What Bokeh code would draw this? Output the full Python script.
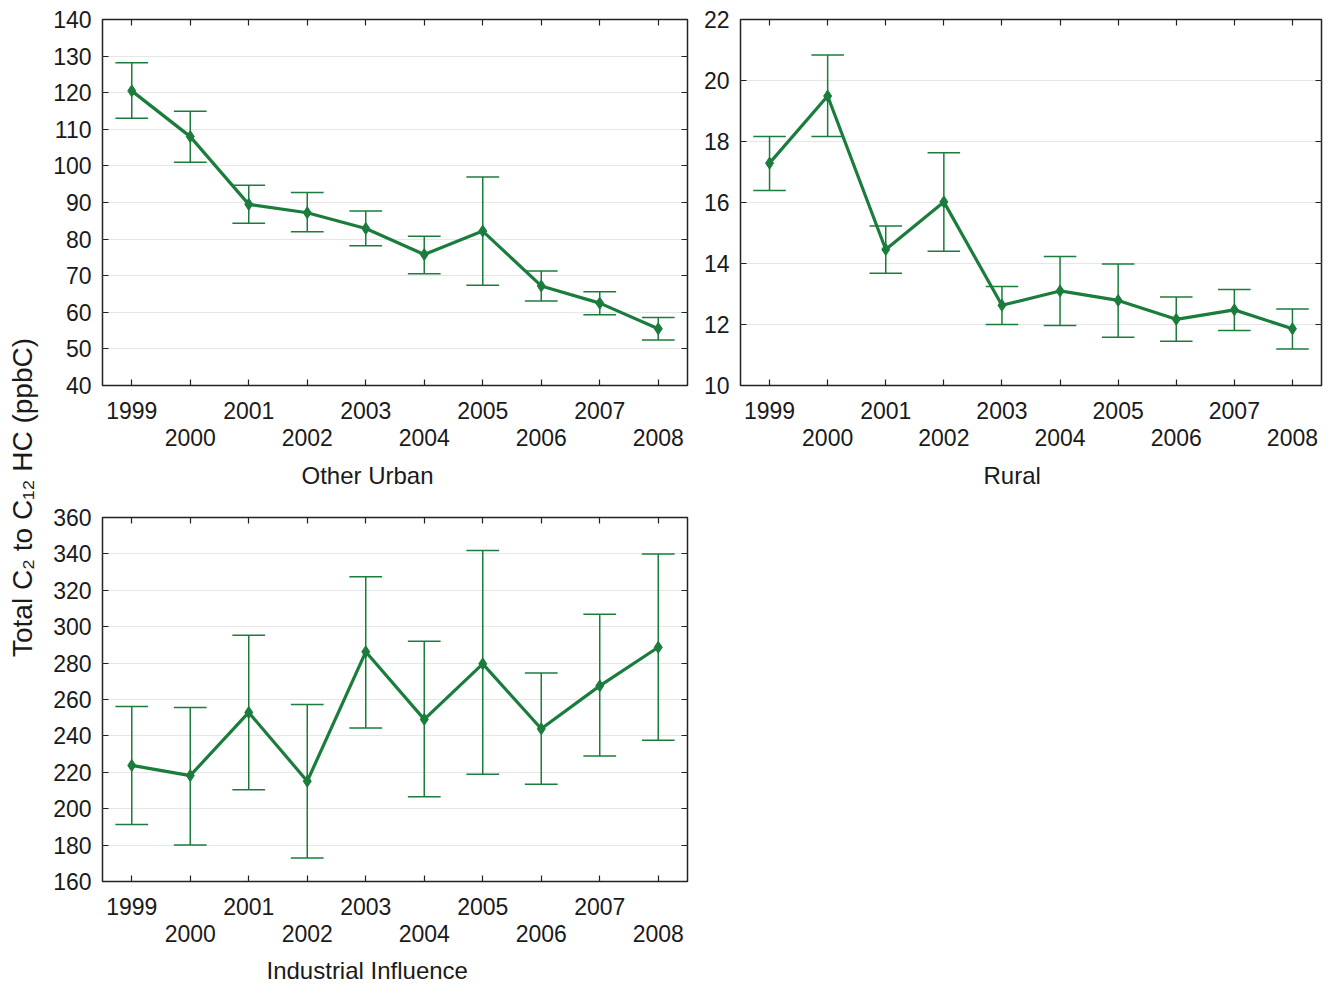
import math
from bokeh.plotting import figure
from bokeh.models import LinearAxis, FixedTicker, Range1d, Label, Grid, Title
from bokeh.layouts import row, column
from bokeh.embed import file_html
from bokeh.resources import INLINE

years = [1999, 2000, 2001, 2002, 2003, 2004, 2005, 2006, 2007, 2008]

urban_mean = [120.5, 108.0, 89.5, 87.2, 82.9, 75.8, 82.2, 67.2, 62.5, 55.5]
urban_upper = [128.2, 114.9, 94.7, 92.7, 87.7, 80.8, 97.0, 71.3, 65.6, 58.6]
urban_lower = [113.0, 101.0, 84.3, 82.0, 78.2, 70.5, 67.4, 63.1, 59.3, 52.4]

rural_mean = [17.29, 19.49, 14.46, 16.02, 12.63, 13.10, 12.79, 12.17, 12.48, 11.86]
rural_upper = [18.16, 20.84, 15.23, 17.63, 13.25, 14.23, 13.98, 12.90, 13.15, 12.51]
rural_lower = [16.39, 18.16, 13.68, 14.40, 12.00, 11.97, 11.58, 11.45, 11.80, 11.20]

ind_mean = [223.8, 218.2, 252.9, 215.1, 286.2, 249.1, 279.6, 243.9, 267.5, 288.7]
ind_upper = [256.2, 255.6, 295.3, 257.3, 327.5, 292.0, 341.8, 274.6, 306.9, 340.0]
ind_lower = [191.3, 180.0, 210.4, 172.9, 244.4, 206.6, 218.9, 213.5, 229.0, 237.6]

y_label = "Total C\u2082 to C\u2081\u2082 HC (ppbC)"

GREEN = "#1a7d3c"
FONT = "Liberation Sans"
TEXT_COLOR = "#1a1a1a"
TICK_FS = "23px"
LABEL_FS = "24px"
CAP = 0.28


def make_panel(title, mean, lower, upper, y0, y1, step, width, height,
               ml, mr, mt, mb, title_offset, title_standoff):
    xs = list(range(len(years)))
    p = figure(width=width, height=height,
               x_range=Range1d(-0.5, len(years) - 0.5),
               y_range=Range1d(y0, y1),
               output_backend="svg", toolbar_location=None,
               x_axis_location=None, y_axis_location=None,
               min_border_left=ml, min_border_right=mr,
               min_border_top=mt, min_border_bottom=mb)
    p.grid.visible = False
    p.outline_line_color = "#222222"
    p.outline_line_width = 1.5
    p.background_fill_color = "white"
    p.border_fill_color = "white"

    yt = list(range(y0, y1 + 1, step))
    p.add_layout(Grid(dimension=1, ticker=FixedTicker(ticks=yt),
                      grid_line_color="#e6e6e6", grid_line_width=1), "center")

    def style(ax):
        ax.axis_line_color = None
        ax.major_tick_in = 6
        ax.major_tick_out = 0
        ax.major_tick_line_color = "#222222"
        ax.major_tick_line_width = 1.2
        ax.minor_tick_line_color = None
        ax.major_label_text_font = FONT
        ax.major_label_text_font_size = TICK_FS
        ax.major_label_text_color = TEXT_COLOR
        return ax

    left = style(LinearAxis(ticker=FixedTicker(ticks=yt)))
    left.major_label_standoff = 11
    p.add_layout(left, "left")

    right = style(LinearAxis(ticker=FixedTicker(ticks=yt),
                             major_label_overrides={t: "" for t in yt}))
    right.major_label_text_font_size = "1px"
    right.major_label_standoff = 0
    p.add_layout(right, "right")

    top = style(LinearAxis(ticker=FixedTicker(ticks=xs),
                           major_label_overrides={i: "" for i in xs}))
    top.major_label_text_font_size = "1px"
    top.major_label_standoff = 0
    p.add_layout(top, "above")

    odd_over = {i: (str(years[i]) if i % 2 == 0 else "") for i in xs}
    b1 = style(LinearAxis(ticker=FixedTicker(ticks=xs),
                          major_label_overrides=odd_over))
    b1.major_label_standoff = 16
    p.add_layout(b1, "below")

    ev = [i for i in xs if i % 2 == 1]
    b2 = style(LinearAxis(ticker=FixedTicker(ticks=ev),
                          major_label_overrides={i: str(years[i]) for i in ev}))
    b2.major_tick_in = 0
    b2.major_label_standoff = 7
    p.add_layout(b2, "below")

    p.add_layout(Title(text=title, align="left", offset=title_offset,
                       standoff=title_standoff, text_font=FONT,
                       text_font_size=LABEL_FS, text_font_style="normal",
                       text_color=TEXT_COLOR),
                 "below")

    x0c = [x - CAP for x in xs]
    x1c = [x + CAP for x in xs]
    p.segment(x0=xs, y0=lower, x1=xs, y1=upper, line_color=GREEN, line_width=1.5)
    p.segment(x0=x0c, y0=upper, x1=x1c, y1=upper, line_color=GREEN, line_width=1.5)
    p.segment(x0=x0c, y0=lower, x1=x1c, y1=lower, line_color=GREEN, line_width=1.5)
    p.line(xs, mean, line_color=GREEN, line_width=3.2)
    p.scatter(xs, mean, marker="diamond", size=12, fill_color=GREEN,
              line_color=GREEN)
    return p


p1 = make_panel("Other Urban", urban_mean, urban_lower, urban_upper,
                40, 140, 10, 655, 499, 62, 8, 19, 114, 199, 22)
p2 = make_panel("Rural", rural_mean, rural_lower, rural_upper,
                10, 22, 2, 643, 499, 45, 17, 19, 114, 243, 22)
p3 = make_panel("Industrial Influence", ind_mean, ind_lower, ind_upper,
                160, 360, 20, 655, 494, 62, 8, 18, 112, 164, 20)

lab = figure(width=40, height=993, x_range=Range1d(0, 1), y_range=Range1d(0, 1),
             output_backend="svg", toolbar_location=None,
             x_axis_location=None, y_axis_location=None,
             min_border=0)
lab.outline_line_color = None
lab.grid.visible = False
lab.add_layout(Label(x=22, y=496, x_units="screen", y_units="screen",
                     text=y_label, angle=math.pi / 2,
                     text_align="center", text_baseline="middle",
                     text_font=FONT, text_font_size="28px",
                     text_color=TEXT_COLOR))

layout = row(lab, column(row(p1, p2), row(p3)))

open("out.html", "w").write(file_html(layout, INLINE))
